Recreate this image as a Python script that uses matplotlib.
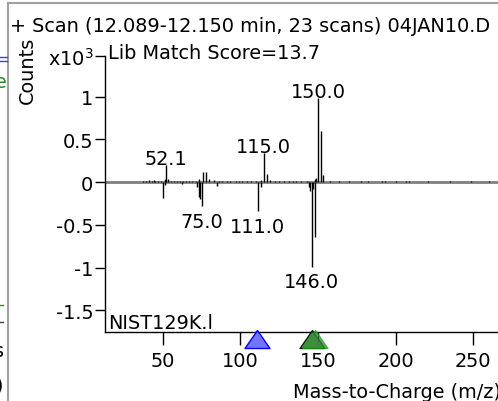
import matplotlib
matplotlib.use("Agg")
import matplotlib.pyplot as plt
from matplotlib.lines import Line2D

# Spectrum data (counts x10^3): sample on top, library mirrored below
pos_mz = [37, 39, 41, 43, 44, 45, 47, 49, 51, 52.1, 53, 55, 57, 59, 61, 63, 65, 67,
          69, 71, 73, 76, 78, 80, 83, 86, 88, 91, 93, 97, 99, 101, 104, 107, 110,
          113, 115, 117, 119, 122, 125, 128, 131, 134, 136, 139, 143, 148, 149,
          150, 152, 153, 158, 163.5, 170, 177.5, 182, 191, 193, 200, 207, 209,
          221, 235, 249, 260]
pos_int = [0.012, 0.01, 0.02, 0.015, 0.02, 0.012, 0.01, 0.015, 0.03, 0.2, 0.035,
           0.015, 0.012, 0.01, 0.012, 0.01, 0.012, 0.01, 0.012, 0.015, 0.04, 0.12,
           0.12, 0.03, 0.02, 0.015, 0.012, 0.01, 0.015, 0.01, 0.012, 0.01, 0.012,
           0.015, 0.012, 0.02, 0.34, 0.09, 0.02, 0.012, 0.01, 0.01, 0.012, 0.01,
           0.01, 0.012, 0.015, 0.04, 0.05, 0.98, 0.6, 0.08, 0.01, 0.015, 0.01,
           0.015, 0.015, 0.012, 0.015, 0.01, 0.015, 0.012, 0.01, 0.008, 0.01, 0.008]

neg_mz = [50, 51, 62, 72, 73, 74, 75, 85, 111, 113, 144, 145, 146, 147, 148]
neg_int = [-0.19, -0.04, -0.02, -0.06, -0.17, -0.2, -0.28, -0.05, -0.34, -0.06,
           -0.06, -0.1, -0.99, -0.08, -0.64]

top_labels = [52.1, 115.0, 150.0]
top_label_int = [0.2, 0.34, 0.98]
bottom_labels = [75.0, 111.0, 146.0]
bottom_label_int = [-0.28, -0.34, -0.99]

marker_blue = [110.7]
marker_green = [146.3, 148.0]

y_ticks = [-1.5, -1, -0.5, 0, 0.5, 1]
y_tick_labels = ["-1.5", "-1", "-0.5", "0", "0.5", "1"]
x_ticks = [50, 100, 150, 200, 250]

W, H = 498, 402
FS = 13.9
plt.rcParams["font.family"] = "DejaVu Sans"
plt.rcParams["mathtext.fontset"] = "dejavusans"
plt.rcParams["axes.unicode_minus"] = False


def px(x, y):
    return x / W, 1 - y / H


fig = plt.figure(figsize=(W / 100, H / 100), dpi=100)
ax_l, ax_b = px(105, 333)
ax_top = px(0, 57)[1]
ax = fig.add_axes([ax_l, ax_b, 1 - ax_l, ax_top - ax_b])

ymin, ymax = -1.754, 1.474
ax.set_xlim(12.6, 266.1)
ax.set_ylim(ymin, ymax)

ax.axhline(0, color="#808080", lw=2, zorder=1)
ax.vlines(pos_mz, 0, pos_int, color="black", lw=1, zorder=2)
ax.vlines(neg_mz, 0, neg_int, color="black", lw=1, zorder=2)

for m, v in zip(top_labels, top_label_int):
    ax.annotate(f"{m:.1f}", (m, v), xytext=(0, 1), textcoords="offset points",
                ha="center", va="baseline", fontsize=FS)
for m, v in zip(bottom_labels, bottom_label_int):
    ax.annotate(f"{m:.1f}", (m, v), xytext=(0, -4), textcoords="offset points",
                ha="center", va="top", fontsize=FS)

# precursor / match markers under the axis
tri = [(0, 0.72), (-1, -0.72), (1, -0.72), (0, 0.72)]
trans = ax.get_xaxis_transform()
ax.scatter(marker_blue, [-7 / 276], marker=tri, s=18 ** 2, transform=trans,
           facecolor="#7474ff", edgecolor="#0000ff", lw=1, clip_on=False, zorder=5)
ax.scatter(marker_green[:1], [-7 / 276], marker=tri, s=18 ** 2, transform=trans,
           facecolor="#2f7a2f", edgecolor="black", lw=1, alpha=0.85,
           clip_on=False, zorder=5)
ax.scatter(marker_green[1:], [-7 / 276], marker=tri, s=18 ** 2, transform=trans,
           facecolor="#3c8c3c", edgecolor="#1aa01a", lw=1, alpha=0.7,
           clip_on=False, zorder=6)

ax.set_yticks(y_ticks + [ymax])
ax.set_yticklabels(y_tick_labels + ["x10$^3$"])
ax.set_xticks(x_ticks)
ax.tick_params(axis="y", direction="out", length=7, width=1, pad=1.5, labelsize=FS)
ax.tick_params(axis="x", direction="out", length=9.5, width=1, pad=4, labelsize=FS)
for s in ["top", "right"]:
    ax.spines[s].set_visible(False)
ax.spines["left"].set_linewidth(1)
ax.spines["bottom"].set_linewidth(1)
ax.set_facecolor("white")

# texts
fig.text(*px(10, 32), "+ Scan (12.089-12.150 min, 23 scans) 04JAN10.D",
         fontsize=FS, va="baseline", ha="left")
fig.text(*px(108, 59), "Lib Match Score=13.7", fontsize=FS, va="baseline", ha="left")
fig.text(*px(27, 70), "Counts", fontsize=FS, rotation=90, va="center", ha="center")
fig.text(*px(108, 329), "NIST129K.l", fontsize=FS, va="baseline", ha="left")
fig.text(*px(293, 398), "Mass-to-Charge (m/z)", fontsize=FS, va="baseline", ha="left")

# frame of the neighbouring window panes
fig.add_artist(Line2D([px(8, 0)[0]] * 2, [px(0, 4)[1], 0], color="#a0a0a0", lw=1.5))
fig.add_artist(Line2D([px(8, 0)[0], 1], [px(0, 4)[1]] * 2, color="#a0a0a0", lw=1.5))
fig.add_artist(Line2D([0, px(7, 0)[0]], [px(0, 58)[1]] * 2, color="#3040ff", lw=1))
fig.add_artist(Line2D([0, px(7, 0)[0]], [px(0, 62)[1]] * 2, color="#3040ff", lw=1))
fig.add_artist(Line2D([0, px(3, 0)[0]], [px(0, 306)[1]] * 2, color="#2a8a2a", lw=1))
fig.add_artist(Line2D([0, px(3, 0)[0]], [px(0, 323)[1]] * 2, color="#404040", lw=1))
fig.text(*px(-5, 82), "e", fontsize=FS, color="#2a8a2a", va="center", ha="left")
fig.text(*px(-6, 352), "s", fontsize=FS, va="center", ha="left")
fig.text(*px(-5, 386), ")", fontsize=FS, va="center", ha="left")

fig.savefig("out.png", dpi=100)
